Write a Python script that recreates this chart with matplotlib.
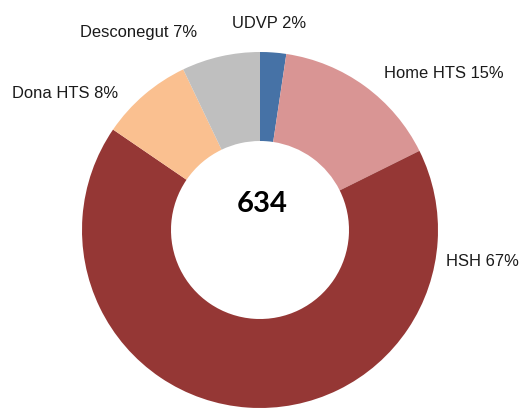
import matplotlib
matplotlib.use('Agg')
import matplotlib.pyplot as plt

# Dades
categories = ['UDVP', 'Home HTS', 'HSH', 'Dona HTS', 'Desconegut']
counts = [15, 97, 424, 53, 45]
colors = ['#4672A6', '#D99594', '#953735', '#FAC090', '#BFBFBF']

total = sum(counts)
pcts = [round(100 * c / total) for c in counts]

fig = plt.figure(figsize=(5.2, 4.14), dpi=100)
ax = fig.add_axes([0, 0, 1, 1])

ax.pie(counts, colors=colors, radius=178, center=(260, 183),
       startangle=90, counterclock=False,
       wedgeprops=dict(width=89, linewidth=0))
ax.set_xlim(0, 520)
ax.set_ylim(0, 414)
ax.set_aspect('auto')
ax.axis('off')

# Etiquetes
label_pos = {
    'UDVP': (269, 391, 'center'),
    'Home HTS': (444, 341, 'center'),
    'HSH': (446, 153, 'left'),
    'Dona HTS': (65, 320, 'center'),
    'Desconegut': (139, 382, 'center'),
}
for cat, p in zip(categories, pcts):
    x, y, ha = label_pos[cat]
    ax.text(x, y, f'{cat} {p}%', ha=ha, va='center',
            fontsize=11.9, family='Liberation Sans', color='#1a1a1a')

ax.text(262, 210, str(total), ha='center', va='center',
        fontsize=21, fontweight='bold', family='Lato', color='black')

fig.savefig('out.png', dpi=100)
